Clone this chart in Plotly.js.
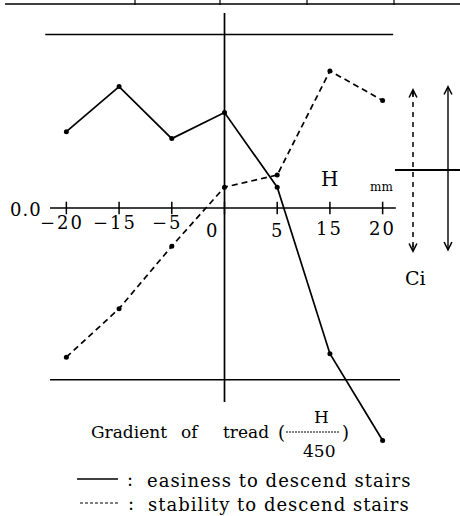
<!DOCTYPE html>
<html><head><meta charset="utf-8">
<script src="https://cdn.plot.ly/plotly-3.0.1.min.js"></script>
<style>html,body{margin:0;padding:0;background:#fff}</style>
</head><body><div id="chart" style="width:460px;height:516px"></div>
<script>
// Gradient of tread H (mm), shown as categories along the horizontal axis
const gradientLabels = ['−20', '−15', '−5', '0', '5', '15', '20'];
// Ci scores for each gradient
const easiness  = [0.44, 0.70, 0.40, 0.55, 0.12, -0.84, -1.34];
const stability = [-0.86, -0.58, -0.22, 0.12, 0.19, 0.79, 0.62];

const W = 460, HT = 516;
const M = {l: 40, r: 51, t: 8, b: 55};
const plotW = W - M.l - M.r, plotH = HT - M.t - M.b;
const ZERO_PX = 208, UNIT_PX = 173.5;
const yTop = (ZERO_PX - M.t) / UNIT_PX;
const yBot = -(M.t + plotH - ZERO_PX) / UNIT_PX;

const idx = gradientLabels.map((_, i) => i);
const ink = '#000';
const serif = '"DejaVu Serif", "Liberation Serif", serif';

// pixel -> paper helpers for decorations drawn around the axes
const fx = p => (p - M.l) / plotW;
const fy = p => (M.t + plotH - p) / plotH;
const sp = (t, ls) => '<span style="letter-spacing:' + ls + 'px">' + t + '</span>';

const traces = [
  { x: idx, y: easiness, mode: 'lines+markers', name: 'easiness',
    line: {color: ink, width: 1.7}, marker: {color: ink, size: 5}, cliponaxis: false },
  { x: idx, y: stability, mode: 'lines+markers', name: 'stability',
    line: {color: ink, width: 1.7, dash: '6px,4px'}, marker: {color: ink, size: 5}, cliponaxis: false },
  // tick marks crossing the zero axis at each category
  { x: idx, y: idx.map(() => 0), mode: 'markers', hoverinfo: 'skip',
    marker: {symbol: 'line-ns', size: 9, line: {color: ink, width: 1.5}} }
];

const L = (x0, y0, x1, y1, w, dash, ref) => ({
  type: 'line', xref: ref || 'paper', yref: ref ? 'y' : 'paper',
  x0, y0, x1, y1, line: {color: ink, width: w, dash: dash || 'solid'}
});

const shapes = [
  // axes and the ±1 reference lines
  L(-0.31, 0, 6.25, 0, 1.7, null, 'x'),
  L(3, (ZERO_PX - 13) / UNIT_PX, 3, (ZERO_PX - 402) / UNIT_PX, 1.7, null, 'x'),
  L(-0.4, 1, 6.2, 1, 1.5, null, 'x'),
  L(-0.31, -0.99, 6.33, -0.99, 1.5, null, 'x'),
  // rule along the top edge
  L(fx(5), fy(4), fx(460), fy(4), 1.3),
  L(fx(135), fy(0), fx(135), fy(5), 1.2),
  L(fx(220), fy(0), fx(220), fy(5), 1.2),
  L(fx(307), fy(0), fx(307), fy(5), 1.2),
  L(fx(394), fy(0), fx(394), fy(5), 1.2),
  // Ci direction key on the right
  L(fx(395), fy(170), fx(460), fy(170), 1.8),
  L(fx(413), fy(92), fx(413), fy(249), 1.5, '5px,5px'),
  L(fx(409), fy(170), fx(417), fy(170), 1.5),
  // fraction bar of H/450
  L(fx(286), fy(432), fx(340), fy(432), 1, '2px,1px'),
  // legend keys
  L(fx(77), fy(479), fx(118), fy(479), 1.5),
  L(fx(80), fy(503), fx(118), fy(503), 1.2, '3px,2px')
];

const T = (text, x, y, size, xanchor) => ({
  text, xref: 'paper', yref: 'paper', x: fx(x), y: fy(y), showarrow: false,
  xanchor: xanchor || 'center', yanchor: 'middle',
  font: {family: serif, size, color: ink}
});

// vertical placement of the category labels under the axis
const labelY = {'−20': 222, '−15': 222, '−5': 222, '0': 231, '5': 231, '15': 228, '20': 228};

const annotations = [
  T(sp('0.0', 1), 26, 209, 18),
  T('H', 329, 179, 20),
  T('mm', 381, 187, 12),
  T('Ci', 415, 278, 19),
  T('Gradient', 129, 432, 17),
  T('of', 190, 432, 17),
  T('tread', 246, 432, 17),
  T('(', 281, 432, 18),
  T(')', 345, 432, 18),
  T('H', 321, 417, 17),
  T('450', 319, 451, 17),
  T(':', 130, 479, 18),
  T(':', 131, 503, 18),
  T(sp('easiness to descend stairs', 1), 145, 480, 18, 'left'),
  T(sp('stability to descend stairs', 1), 146, 504, 18, 'left'),
  // arrowheads of the dashed key
  {xref: 'paper', yref: 'paper', x: fx(413), y: fy(88), text: '', showarrow: true,
   ax: 0, ay: 10, arrowhead: 5, arrowsize: 1.1, arrowwidth: 1.4, arrowcolor: ink},
  {xref: 'paper', yref: 'paper', x: fx(413), y: fy(253), text: '', showarrow: true,
   ax: 0, ay: -10, arrowhead: 5, arrowsize: 1.1, arrowwidth: 1.4, arrowcolor: ink},
  // double-headed solid key
  {xref: 'paper', yref: 'paper', x: fx(448), y: fy(85), text: '', showarrow: true,
   ax: 0, ay: 168, arrowside: 'end+start', arrowhead: 5, startarrowhead: 5,
   arrowsize: 1.1, startarrowsize: 1.1, arrowwidth: 1.4, arrowcolor: ink}
].concat(gradientLabels.map((lab, i) => ({
  text: sp(lab, 2), xref: 'x', yref: 'paper', x: i, y: fy(labelY[lab]),
  xshift: lab === '0' ? -12 : (lab.startsWith('−') ? -4 : 0),
  showarrow: false, xanchor: 'center', yanchor: 'middle',
  font: {family: serif, size: 18, color: ink}
})));

const layout = {
  width: W, height: HT, margin: M, showlegend: false,
  paper_bgcolor: '#fff', plot_bgcolor: '#fff',
  xaxis: {range: [-0.5, 6.5], visible: false, fixedrange: true},
  yaxis: {range: [yBot, yTop], visible: false, fixedrange: true},
  shapes, annotations
};

Plotly.newPlot('chart', traces, layout, {displayModeBar: false, staticPlot: true});
</script></body></html>
